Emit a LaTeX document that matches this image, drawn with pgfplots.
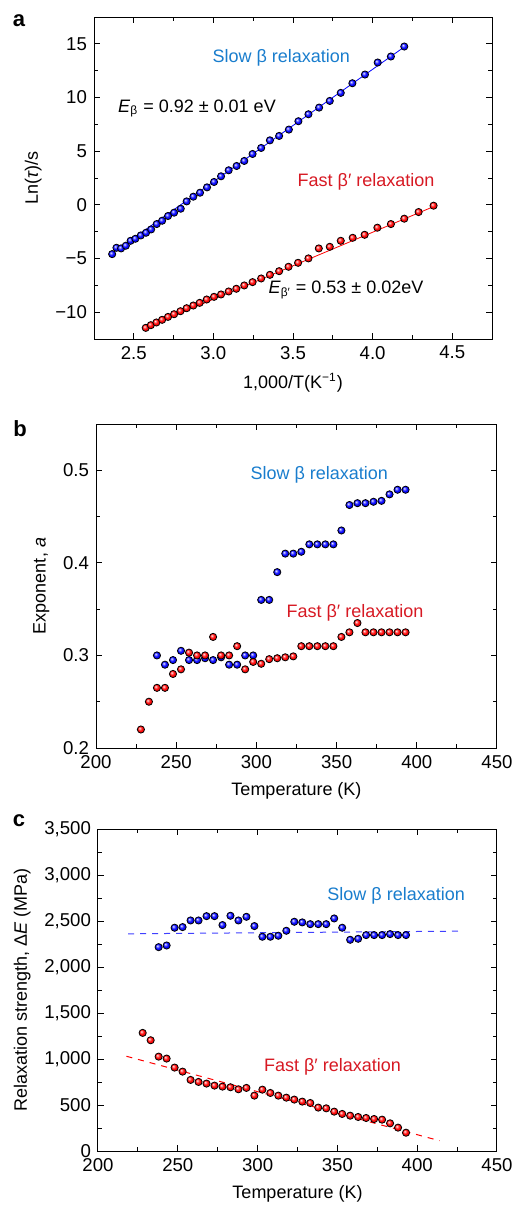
\documentclass[border=0pt]{standalone}
\usepackage{fontspec}
\setmainfont{Liberation Sans}
\usepackage{pgfplots}
\pgfplotsset{compat=1.18}

\definecolor{slowtxt}{RGB}{25,125,205}
\definecolor{fasttxt}{RGB}{215,25,35}
\definecolor{ballblue}{RGB}{10,10,255}
\definecolor{ballred}{RGB}{255,10,10}

% brighter sphere shading than the tikz default
\makeatletter
\pgfdeclareradialshading[tikz@ball]{ball}{\pgfqpoint{-10bp}{10bp}}{%
  color(0bp)=(tikz@ball!5!white); color(5bp)=(tikz@ball!40!white);
  color(15bp)=(tikz@ball); color(32bp)=(tikz@ball!88!black);
  color(50bp)=(tikz@ball!55!black)}
\makeatother

\pgfplotsset{
  panel/.style={
    scale only axis, anchor=south west,
    tick align=inside, tick pos=both,
    major tick length=3pt, minor tick length=1.8pt,
    every tick/.style={black, line width=0.5pt},
    axis line style={line width=0.5pt},
    font=\fontsize{9}{10.8}\selectfont,
    /pgf/number format/assume math mode=true,
    label style={font=\fontsize{9}{10.8}\selectfont},
    tick label style={font=\fontsize{9.3}{11}\selectfont},
    clip=false,
  },
  slow/.style={only marks, mark=ball, mark size=1.8pt, mark options={ball color=ballblue}},
  fast/.style={only marks, mark=ball, mark size=1.8pt, mark options={ball color=ballred}},
}

\begin{document}
\begin{tikzpicture}
\useasboundingbox (0,0) rectangle (256pt,-602.5pt);

% ---- panel a
\begin{axis}[panel, at={(47pt,-169.5pt)}, width=199pt, height=161pt,
  xmin=2.25, xmax=4.75, ymin=-12.5, ymax=17.5,
  xtick={2.5,3.0,3.5,4.0,4.5}, minor x tick num=1,
  xticklabel style={/pgf/number format/.cd, fixed, fixed zerofill, precision=1},
  ytick={-10,-5,0,5,10,15}, yticklabels={−10,−5,0,5,10,15}, minor y tick num=1,
  xlabel={1,000/T(K\textsuperscript{−1})},
  ylabel={Ln(\textit{τ})/s},
]
\addplot[blue, line width=0.4pt] coordinates {(2.36,-4.55) (4.20,14.72)};
\addplot[red, line width=0.4pt] coordinates {(2.575,-11.45) (4.39,-0.12)};
\addplot[slow] coordinates {
(2.364,-4.59) (2.391,-4.00) (2.420,-4.06) (2.450,-3.81) (2.480,-3.35) (2.510,-3.16)
(2.544,-2.85) (2.577,-2.60) (2.609,-2.29) (2.644,-1.79) (2.678,-1.48) (2.715,-1.04)
(2.753,-0.73) (2.795,-0.36) (2.832,0.32) (2.874,0.76) (2.916,1.13) (2.960,1.63)
(3.004,2.13) (3.048,2.66) (3.096,3.22) (3.146,3.62) (3.194,4.09) (3.246,4.74)
(3.300,5.30) (3.355,6.01) (3.413,6.42) (3.474,7.01) (3.534,7.79) (3.597,8.44)
(3.664,9.06) (3.731,9.68) (3.800,10.43) (3.873,11.33) (3.952,12.14) (4.032,13.26)
(4.115,13.82) (4.199,14.75)};
\addplot[fast] coordinates {
(2.575,-11.46) (2.607,-11.21) (2.642,-10.96) (2.678,-10.71) (2.715,-10.44) (2.753,-10.19)
(2.793,-9.91) (2.832,-9.63) (2.874,-9.38) (2.914,-9.13) (2.958,-8.82) (3.004,-8.57)
(3.048,-8.35) (3.096,-8.07) (3.144,-7.82) (3.194,-7.51) (3.246,-7.20) (3.300,-6.86)
(3.355,-6.52) (3.413,-6.18) (3.472,-5.77) (3.532,-5.40) (3.597,-4.99) (3.662,-4.06)
(3.731,-3.91) (3.800,-3.35) (3.875,-3.07) (3.950,-2.79) (4.030,-2.13) (4.115,-1.79)
(4.199,-1.29) (4.289,-0.67) (4.383,-0.08)};
\node[slowtxt] at (axis cs:3.426,13.66) {Slow β relaxation};
\node at (axis cs:2.897,9.0) {\textit{E}\textsubscript{β} = 0.92 ± 0.01 eV};
\node[fasttxt] at (axis cs:3.959,2.16) {Fast β′ relaxation};
\node at (axis cs:3.833,-7.95) {\textit{E}\textsubscript{β′} = 0.53 ± 0.02eV};
\end{axis}

% ---- panel b
\begin{axis}[panel, at={(48pt,-374pt)}, width=200.5pt, height=162pt,
  xmin=200, xmax=450, ymin=0.2, ymax=0.55,
  xtick={200,250,...,450}, minor x tick num=1,
  ytick={0.2,0.3,0.4,0.5}, minor y tick num=1,
  yticklabel style={/pgf/number format/.cd, fixed, fixed zerofill, precision=1},
  xlabel={Temperature (K)},
  ylabel={Exponent, \textit{a}},
]
\addplot[slow] coordinates {
(238,0.300) (243,0.290) (248,0.295) (253,0.305) (258,0.295) (263,0.295) (268,0.297)
(273,0.295) (278,0.298) (283,0.290) (288,0.290) (293,0.300) (298,0.300) (303,0.360)
(308,0.360) (313,0.390) (318,0.410) (323,0.410) (328,0.412) (333,0.420) (338,0.420)
(343,0.420) (348,0.420) (353,0.435) (358,0.4625) (363,0.4645) (368,0.4645) (373,0.466)
(378,0.467) (383,0.474) (388,0.479) (393,0.479)};
\addplot[fast] coordinates {
(228,0.220) (233,0.250) (238,0.265) (243,0.265) (248,0.280) (253,0.285) (258,0.303)
(263,0.300) (268,0.300) (273,0.320) (278,0.300) (283,0.300) (288,0.310) (293,0.285)
(298,0.293) (303,0.291) (308,0.296) (313,0.297) (318,0.298) (323,0.299) (328,0.310)
(333,0.310) (338,0.310) (343,0.310) (348,0.310) (353,0.320) (358,0.325) (363,0.335)
(368,0.325) (373,0.325) (378,0.325) (383,0.325) (388,0.325) (393,0.325)};
\node[slowtxt] at (axis cs:339.2,0.4946) {Slow β relaxation};
\node[fasttxt] at (axis cs:361.5,0.346) {Fast β′ relaxation};
\end{axis}

% ---- panel c
\begin{axis}[panel, at={(49pt,-575.5pt)}, width=199.5pt, height=161pt,
  xmin=200, xmax=450, ymin=0, ymax=3500,
  xtick={200,250,...,450}, minor x tick num=1,
  ytick={0,500,...,3500}, minor y tick num=1,
  scaled y ticks=false,
  yticklabel style={/pgf/number format/.cd, 1000 sep={,}},
  xlabel={Temperature (K)},
  ylabel={Relaxation strength, Δ\textit{E} (MPa)},
]
\addplot[blue!75, dashed, line width=0.5pt] coordinates {(218.8,2361) (428,2390)};
\addplot[red, dashed, line width=0.5pt] coordinates {(217.8,1030) (414,112)};
\addplot[slow] coordinates {
(238,2216) (243,2234) (248,2427) (253,2434) (258,2506) (263,2506) (268,2553) (273,2553)
(278,2456) (283,2557) (288,2506) (293,2546) (298,2445) (303,2329) (308,2329) (313,2340)
(318,2394) (323,2492) (328,2485) (333,2466) (338,2466) (343,2466) (348,2528) (353,2427)
(358,2296) (363,2307) (368,2347) (373,2347) (378,2347) (383,2358) (388,2347) (393,2347)};
\addplot[fast] coordinates {
(228,1284) (233,1204) (238,1026) (243,1005) (248,907) (253,863) (258,773) (263,751)
(268,733) (273,711) (278,700) (283,693) (288,671) (293,686) (298,602) (303,667)
(308,631) (313,602) (318,580) (323,559) (328,537) (333,522) (338,472) (343,464)
(348,428) (353,403) (358,384) (363,370) (368,359) (373,348) (378,341) (383,301)
(388,254) (393,199)};
\node[slowtxt] at (axis cs:386.8,2775) {Slow β relaxation};
\node[fasttxt] at (axis cs:346.9,918) {Fast β′ relaxation};
\end{axis}

\node[font=\bfseries\fontsize{11}{13}\selectfont] at (9.5pt,-10.5pt) {a};
\node[font=\bfseries\fontsize{11}{13}\selectfont] at (10pt,-214.5pt) {b};
\node[font=\bfseries\fontsize{11}{13}\selectfont] at (9.5pt,-410.3pt) {c};
\end{tikzpicture}
\end{document}
